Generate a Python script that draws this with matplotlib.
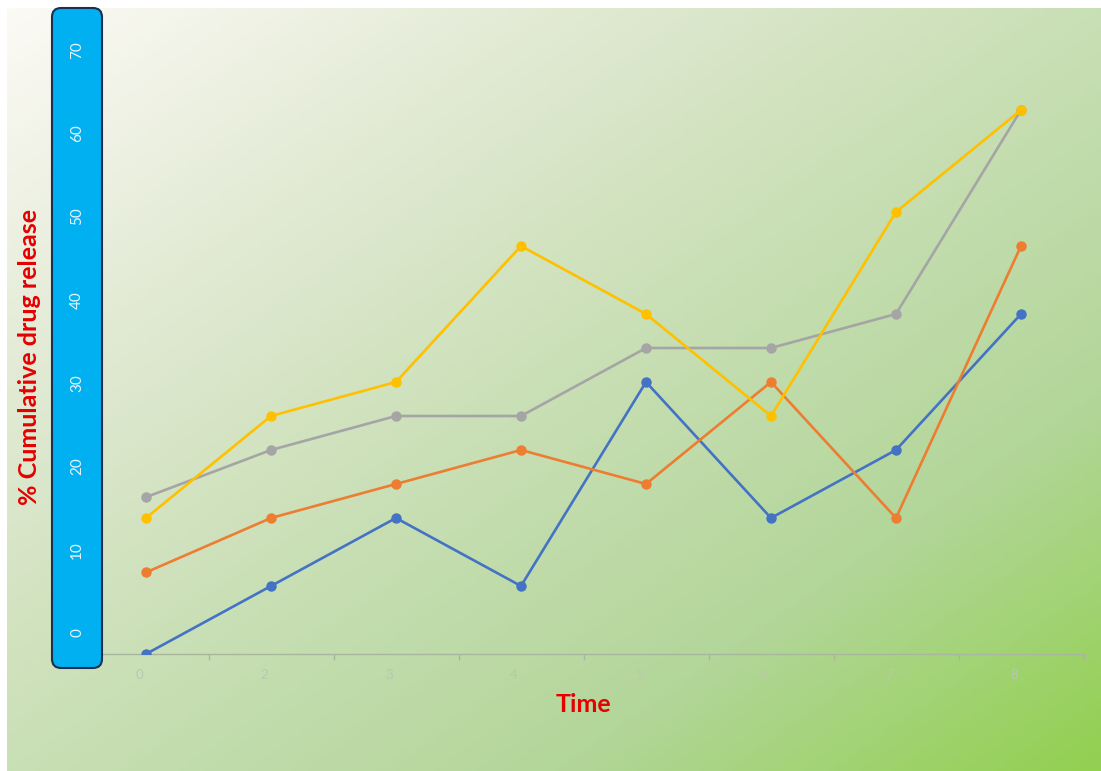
import matplotlib
matplotlib.use("Agg")
import matplotlib.pyplot as plt
import matplotlib.transforms as mtransforms
from matplotlib.colors import LinearSegmentedColormap
from matplotlib.patches import FancyBboxPatch
import numpy as np

plt.rcParams['font.family'] = ['Lato', 'DejaVu Sans']

# Data (one series per colour)
time_labels = ["0", "2", "3", "4", "5", "6", "7", "8"]
blue = [0, 7.5, 15, 7.5, 30, 15, 22.5, 37.5]
orange = [9, 15, 18.75, 22.5, 18.75, 30, 15, 45]
gray = [17.3, 22.5, 26.25, 26.25, 33.75, 33.75, 37.5, 60]
yellow = [15, 26.25, 30, 45, 37.5, 26.25, 48.75, 60]
box_labels = [0, 10, 20, 30, 40, 50, 60, 70]

series = [(blue, "#4472c4"), (orange, "#ed7d31"), (gray, "#a5a5a5"), (yellow, "#ffc000")]

W, H = 1101, 771
fig = plt.figure(figsize=(W / 100, H / 100), dpi=100)
fig.patch.set_facecolor("white")

# Diagonal gradient background (cream top-left -> green bottom-right)
bg = fig.add_axes([7 / W, 0, 1 - 7 / W, 1 - 8 / H])
bg.set_axis_off()
gx, gy = np.meshgrid(np.linspace(0, 1, 300), np.linspace(0, 1, 220))
grad = (gx + gy) / 2
cmap = LinearSegmentedColormap.from_list(
    "bg", [(0, "#fcfaf5"), (0.25, "#e2ead4"), (0.5, "#c9dfb5"), (0.75, "#b3d69a"), (1.0, "#92d050")])
bg.imshow(grad, cmap=cmap, aspect="auto", extent=[0, 1, 1, 0], vmin=0, vmax=1)

# Main plot area
ax = fig.add_axes([83.5 / W, (H - 654) / H, 1000 / W, 646 / H])
ax.patch.set_alpha(0)
x = np.arange(len(time_labels))
for values, color in series:
    ax.plot(x, values, color=color, lw=1.9, marker="o", ms=6.5, zorder=3)
ax.set_xlim(-0.5, len(time_labels) - 0.5)
ax.set_ylim(0, 71.25)
for side in ["left", "right", "top"]:
    ax.spines[side].set_visible(False)
ax.spines["bottom"].set_color("#a9b69e")
ax.spines["bottom"].set_linewidth(1.0)
ax.set_yticks([])
ax.set_xticks(x)
ax.set_xticklabels(time_labels, color="#bcc6b2", fontsize=9.5)
ax.set_xticks(np.arange(0.5, len(time_labels), 1), minor=True)
ax.tick_params(axis="x", which="major", length=0, pad=11)
ax.tick_params(axis="x", which="minor", length=4, color="#a9b69e", width=1)
# labels sit a little left of the points in the reference
shift = mtransforms.ScaledTranslation(-7 / 100, 0, fig.dpi_scale_trans)
for lab in ax.get_xticklabels():
    lab.set_transform(lab.get_transform() + shift)

# Blue rounded box holding the y values
box = FancyBboxPatch((52, H - 668), 50, 660, boxstyle="round,pad=0,rounding_size=9",
                     transform=mtransforms.IdentityTransform(),
                     facecolor="#00b0f0", edgecolor="#1c2f50", lw=1.5, zorder=5)
fig.patches.append(box)
box_ax = fig.add_axes([52 / W, (H - 668) / H, 50 / W, 660 / H])
box_ax.set_axis_off()
box_ax.set_zorder(6)
box_ax.set_xlim(0, 1)
box_ax.set_ylim(-4.2, 75.04)
for v in box_labels:
    box_ax.text(0.5, v, str(v), rotation=90, ha="center", va="center",
                color="#e6f6fd", fontsize=11)

fig.text(30 / W, 1 - 357 / H, "% Cumulative drug release", rotation=90, ha="center", va="center",
         color="#e60000", fontsize=18, fontweight="bold")
fig.text(583 / W, 1 - 705 / H, "Time", ha="center", va="center",
         color="#e60000", fontsize=18, fontweight="bold")

fig.savefig("out.png", dpi=100)
